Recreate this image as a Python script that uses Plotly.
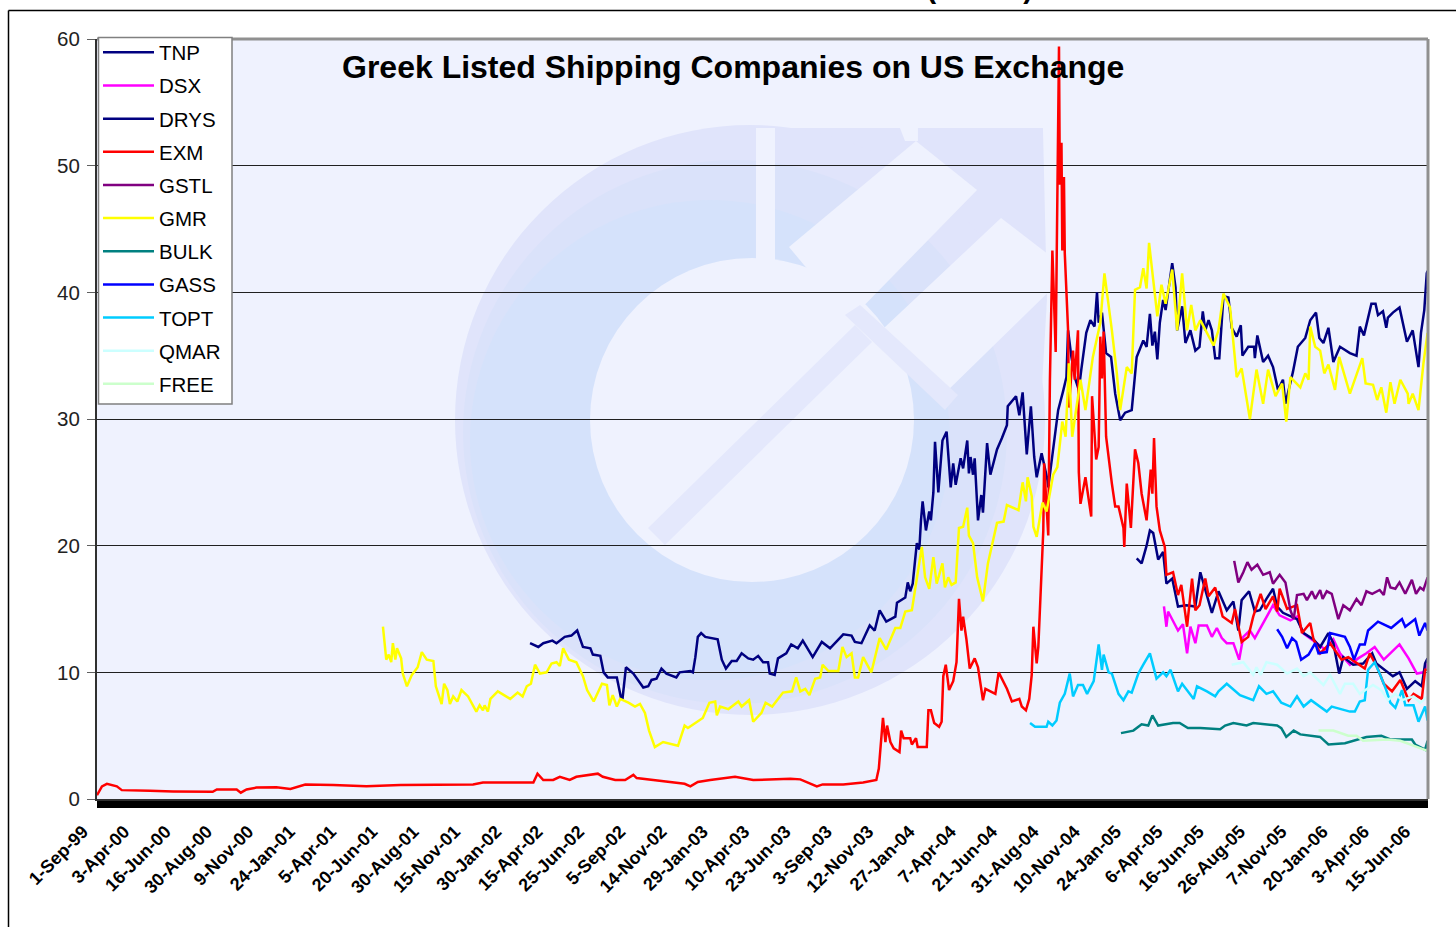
import plotly.graph_objects as go

TICK_DAYS = [50 * i for i in range(33)]
TICK_LABELS = ["1-Sep-99","3-Apr-00","16-Jun-00","30-Aug-00","9-Nov-00","24-Jan-01","5-Apr-01","20-Jun-01",
    "30-Aug-01","15-Nov-01","30-Jan-02","15-Apr-02","25-Jun-02","5-Sep-02","14-Nov-02","29-Jan-03","10-Apr-03",
    "23-Jun-03","3-Sep-03","12-Nov-03","27-Jan-04","7-Apr-04","21-Jun-04","31-Aug-04","10-Nov-04","24-Jan-05",
    "6-Apr-05","16-Jun-05","26-Aug-05","7-Nov-05","20-Jan-06","3-Apr-06","15-Jun-06"]

# (trading-day number, price)
TNP = [(524,12.3),(534,12),(540,12.3),(551,12.5),(556,12.3),(566,12.8),(574,12.9),(581,13.3),(588,12),(597,11.9),(600,11.4),(609,11.3),(613,10),(618,9.6),(629,9.6),(634,8),(636,8),(640,10.4),(649,9.9),(661,8.8),(667,8.9),(671,9.4),(677,9.5),(683,10.3),(689,9.9),(701,9.6),(705,10),(718,10.1),(721,10),(724,11.2),(727,12.8),(731,13.1),(736,12.8),(751,12.6),(756,11),(761,10.3),(768,10.9),(774,10.9),(780,11.5),(788,11.1),(794,11),(800,11.3),(806,10.8),(812,10.8),(814,9.9),(820,9.8),(824,11.1),(834,11.5),(840,12.2),(848,11.9),(854,12.5),(866,11.2),(877,12.4),(887,11.9),(903,13),(913,12.9),(917,12.4),(925,12.3),(935,13.7),(941,13.3),(947,14.9),(955,14),(966,14.4),(968,15.5),(978,15.9),(981,17.1),(984,16.4),(987,17),(992,20.2),(995,19.7),(997,22),(999,23.5),(1003,21.2),(1007,22.7),(1009,22),(1012,24.2),(1014,28.2),(1018,24.2),(1023,28.3),(1028,29),(1033,24.6),(1036,26.5),(1039,24.8),(1045,26.9),(1048,26.1),(1053,28.3),(1055,25.7),(1057,27),(1060,25.6),(1062,26.9),(1066,22),(1070,24),(1072,22.6),(1077,28.1),(1081,25.6),(1089,27.6),(1095,28.5),(1101,29.5),(1102,31),(1112,31.8),(1116,30.3),(1120,32.1),(1125,27.2),(1130,31),(1134,27),(1137,25.4),(1143,27.3),(1150,25.2),(1151,24.6),(1155,26.5),(1160,29.3),(1163,30.7),(1169,32.2),(1173,33.3),(1175,37),(1179,34.9),(1184,33.1),(1188,32.3),(1191,33.9),(1197,36.8),(1202,37.8),(1207,37.3),(1210,40),(1212,37.6),(1216,38.4),(1221,35.2),(1227,34.9),(1232,32),(1238,29.9),(1244,30.5),(1252,30.7),(1258,34.9),(1266,36.2),(1270,35.7),(1274,38.3),(1277,35.8),(1280,36.9),(1283,34.7),(1286,37.6),(1290,39.4),(1293,38.6),(1301,42.3),(1305,40.4),(1307,37),(1313,38.9),(1317,36),(1323,37),(1329,35.4),(1334,35.7),(1338,38.5),(1341,37),(1345,37.8),(1349,37),(1353,34.8),(1358,34.8),(1363,39.7),(1369,39.6),(1373,37.2),(1379,36.5),(1384,37.4),(1386,35),(1393,35.7),(1400,35.7),(1401,34.8),(1404,36.6),(1411,34.5),(1417,35),(1423,34.1),(1429,32.3),(1435,33.1),(1438,31.2),(1447,33.7),(1453,35.7),(1462,36.4),(1468,37.8),(1475,38.4),(1479,36.4),(1484,36),(1490,37.2),(1496,34.5),(1504,35.7),(1516,35.2),(1524,35),(1528,37.3),(1533,36.6),(1538,38.1),(1542,39.1),(1547,39.1),(1550,38.2),(1556,38.5),(1560,37.2),(1562,38),(1568,38.4),(1576,38.8),(1581,37.3),(1585,36.1),(1592,37),(1595,35.8),(1599,34.1),(1602,36.8),(1606,38.6),(1609,41.5),(1610,41.7)]

DSX = [(1291,15.2),(1294,13.6),(1296,14.8),(1308,13.3),(1314,13.8),(1319,11.5),(1323,13.6),(1329,12.3),(1333,13.7),(1343,13.7),(1349,12.8),(1355,13.5),(1361,12.7),(1367,12.3),(1375,12.3),(1382,11),(1387,12.8),(1395,13.3),(1401,12.7),(1411,13.9),(1423,15.3),(1431,14.5),(1444,14.1),(1452,14.4),(1459,13.1),(1476,12.3),(1486,11.8),(1496,12.6),(1504,11.5),(1516,10.6),(1526,11.1),(1536,11.5),(1546,12),(1557,11),(1565,11.5),(1576,12.2),(1587,11.1),(1597,9.9),(1605,10),(1610,10.7)]

DRYS = [(1258,19),(1264,18.6),(1270,20),(1274,21.2),(1278,21),(1284,18.9),(1290,19.5),(1294,17),(1301,17.4),(1308,15.2),(1318,15.3),(1329,15.2),(1335,17.9),(1343,16),(1349,14.7),(1357,16.4),(1367,14.9),(1375,15.6),(1381,13.3),(1385,15.7),(1394,16.4),(1401,14.8),(1407,14.9),(1415,15.8),(1423,16.6),(1428,15.2),(1435,14.7),(1452,14.2),(1460,13.1),(1472,12.6),(1480,12),(1490,13.1),(1496,12.3),(1503,9.9),(1508,11.2),(1520,10.6),(1532,10.7),(1543,11.5),(1548,10.7),(1568,9.7),(1576,10),(1585,8.7),(1595,9.3),(1603,8.9),(1607,10.7),(1610,11.1)]

EXM = [(0,.3),(6,1.0),(12,1.2),(24,1.0),(30,.7),(44,.7),(64,.65),(92,.6),(140,.57),(145,.75),(169,.75),(174,.5),(181,.75),(193,.9),(217,.92),(234,.8),(243,.95),(252,1.15),(286,1.1),(326,1.0),(367,1.1),(455,1.15),(467,1.3),(528,1.3),(533,2.0),(540,1.5),(552,1.5),(560,1.75),(572,1.5),(580,1.75),(606,2),(612,1.75),(627,1.5),(639,1.5),(649,1.9),(653,1.65),(673,1.5),(689,1.35),(711,1.2),(718,1.0),(727,1.35),(742,1.5),(772,1.75),(794,1.5),(839,1.6),(851,1.55),(871,1.0),(878,1.15),(903,1.15),(927,1.3),(943,1.5),(946,2.4),(951,6.4),(954,4.5),(956,5.8),(960,4.5),(964,4),(971,3.7),(973,5.4),(976,4.8),(984,4.8),(986,4.3),(991,4.8),(993,4.1),(1004,4.1),(1006,7),(1009,7),(1013,6),(1019,5.7),(1022,6.1),(1024,9.7),(1027,10.6),(1031,8.6),(1036,9.3),(1040,10.8),(1043,15.8),(1046,13.3),(1048,14.4),(1052,12.6),(1056,10.3),(1062,11.1),(1066,10.4),(1072,7.8),(1075,8.7),(1087,8.3),(1091,10),(1101,8.7),(1107,7.7),(1116,7.9),(1119,7.3),(1124,7),(1128,7.9),(1131,9.8),(1133,13.6),(1137,10.7),(1139,12),(1143,18.1),(1145,21.2),(1146,26.5),(1151,20.8),(1153,33),(1156,43.3),(1160,35.3),(1164,59.4),(1165,48.5),(1167,51.8),(1168,43.3),(1170,49.1),(1171,43.1),(1173,40.2),(1175,37),(1176,30.9),(1181,35.4),(1183,33.1),(1187,37),(1188,25.8),(1190,23.3),(1196,25.4),(1203,22.3),(1204,31.8),(1208,27.5),(1209,26.8),(1212,27.8),(1214,36.5),(1216,33.2),(1218,36.9),(1221,28.6),(1224,26.8),(1228,24.9),(1232,23.1),(1236,23.1),(1242,21.4),(1243,19.9),(1246,24.9),(1251,21.4),(1256,27.6),(1260,26.5),(1264,24.1),(1270,22),(1275,26),(1277,24.1),(1279,28.5),(1282,23.1),(1286,21.2),(1292,19.9),(1294,17.7),(1302,17.9),(1308,16.1),(1312,16.9),(1319,13.6),(1325,17.4),(1329,14.9),(1334,15.3),(1341,17.4),(1345,16),(1353,16.7),(1362,14.4),(1373,13.9),(1377,15),(1385,12.4),(1393,12.8),(1399,14.4),(1408,16.2),(1414,15),(1423,16),(1428,14.8),(1431,16.6),(1440,15),(1452,15.3),(1458,13.1),(1468,13.9),(1472,12.6),(1480,11.5),(1492,12.3),(1506,11),(1514,11.2),(1534,10.3),(1540,11.5),(1549,10.4),(1557,9.1),(1567,8.5),(1577,9.4),(1587,7.8),(1593,8.3),(1603,7.9),(1607,10.2),(1610,10.2)]

GSTL = [(1376,18.8),(1381,17.1),(1387,17.9),(1392,18.7),(1397,18.1),(1404,18.5),(1411,17.7),(1419,17.9),(1423,17),(1431,17.7),(1438,17.1),(1444,14.9),(1448,14.2),(1452,16.1),(1460,16.2),(1464,15.7),(1470,16.4),(1474,15.8),(1480,16.5),(1483,15.8),(1488,16.4),(1494,16.2),(1502,14.2),(1508,15.3),(1516,14.9),(1524,15.8),(1530,15.3),(1536,16.4),(1543,16.2),(1552,16.5),(1557,16.1),(1561,17.5),(1565,16.7),(1571,16.6),(1576,17.1),(1583,16.2),(1591,17.3),(1596,16.2),(1601,16.7),(1605,16.5),(1610,17.5)]

GMR = [(346,13.6),(350,11),(353,11.4),(356,10.8),(358,12.3),(361,11),(363,11.9),(368,11.1),(370,9.9),(375,8.9),(381,9.8),(388,10.4),(393,11.6),(399,11),(407,10.9),(410,8.9),(417,7.5),(420,9.1),(424,8.6),(427,7.5),(431,8.1),(436,7.7),(441,8.6),(449,8.1),(459,6.9),(463,7.4),(467,7),(469,7.4),(473,6.9),(476,7.9),(485,8.5),(500,7.9),(509,8.4),(515,8.1),(520,8.9),(525,9.1),(530,10.6),(536,9.9),(544,10),(550,10.7),(556,10.8),(560,10.5),(564,11.9),(571,11),(580,10.8),(588,9.7),(593,8.6),(601,7.7),(611,9.1),(617,9),(620,7.4),(624,8.2),(629,7.3),(633,7.9),(643,7.6),(651,7.3),(657,7.5),(663,6.8),(668,5.4),(675,4.1),(685,4.5),(703,4.2),(711,5.8),(715,5.6),(733,6.4),(741,7.6),(748,7.7),(750,6.6),(754,7.3),(764,7.1),(776,7.7),(780,7.3),(789,7.8),(794,6.1),(804,6.8),(809,7.6),(817,7.3),(830,8.4),(841,8.5),(846,9.6),(851,8.5),(857,8.7),(862,8.2),(869,9.5),(875,9.6),(878,10.6),(885,10.1),(897,10.1),(902,12),(907,11.2),(913,11.5),(917,9.6),(921,9.6),(927,11.2),(937,10),(947,12.7),(955,11.8),(966,13.5),(972,13.5),(978,14.8),(986,14.9),(990,16.7),(998,19.9),(1002,17.5),(1007,16.6),(1012,19.1),(1016,17),(1023,18.6),(1026,16.7),(1030,17.5),(1034,16.9),(1039,17.1),(1043,21.4),(1048,21.5),(1053,23),(1055,20.8),(1060,20.2),(1065,17.5),(1072,15.6),(1078,18.6),(1084,20.4),(1089,21.8),(1097,21.9),(1101,23.2),(1115,22.8),(1120,25),(1124,23.5),(1126,25.4),(1131,23.9),(1133,21.5),(1137,20.7),(1144,23.4),(1149,22.7),(1157,25.6),(1162,26.2),(1168,29.8),(1172,28.6),(1176,34.4),(1180,28.6),(1190,33.1),(1196,30.7),(1205,34.9),(1214,37.6),(1219,41.5),(1228,37),(1234,33.6),(1238,30.7),(1246,34.1),(1252,33.6),(1256,40.2),(1262,40.4),(1266,41.9),(1270,40.3),(1273,43.9),(1278,41),(1283,38.1),(1288,40.6),(1293,39.1),(1301,41.8),(1307,37),(1313,41.5),(1319,37),(1324,39),(1329,37),(1335,37.8),(1341,37),(1351,35.8),(1357,37),(1363,39.9),(1371,38.8),(1379,33.3),(1385,34),(1395,30),(1403,33.9),(1411,31.2),(1417,33.9),(1426,31.8),(1434,32.8),(1439,29.8),(1444,33.3),(1456,32.5),(1462,33.6),(1466,33.1),(1468,37.3),(1474,35.7),(1480,35.4),(1485,33.6),(1490,34.3),(1498,32.3),(1503,34.9),(1516,32),(1531,34.8),(1535,32.8),(1544,32.7),(1549,31.5),(1554,32.5),(1560,30.5),(1565,32.9),(1570,31.2),(1577,33.1),(1586,32),(1587,31.2),(1592,32),(1599,30.7),(1605,34.4),(1610,36.8)]

BULK = [(1239,5.2),(1254,5.4),(1264,5.9),(1272,5.8),(1277,6.6),(1284,5.8),(1302,6),(1310,6),(1320,5.6),(1335,5.6),(1359,5.5),(1365,5.8),(1375,6),(1391,5.8),(1399,6),(1428,5.8),(1433,5.6),(1439,4.9),(1448,5.4),(1456,5.1),(1480,4.9),(1490,4.3),(1510,4.4),(1524,4.7),(1536,4.9),(1554,5),(1565,4.7),(1591,4.7),(1595,4.3),(1607,3.9),(1610,4.6)]

GASS = [(1428,13.4),(1434,12.8),(1440,11.9),(1446,12.7),(1451,12.4),(1457,11),(1466,11.4),(1474,12.3),(1478,11.5),(1488,11.6),(1492,13.1),(1510,12.8),(1516,12),(1521,11),(1528,12.2),(1534,12.2),(1538,13.3),(1550,14),(1566,13.5),(1579,14.2),(1583,13.6),(1595,14.2),(1600,12.9),(1607,13.9),(1610,13.3)]

TOPT = [(1129,6),(1135,5.7),(1149,5.7),(1151,6.1),(1156,5.8),(1161,6.2),(1165,7.6),(1171,8.3),(1177,9.9),(1181,8.1),(1187,9),(1193,9),(1198,8.3),(1206,9.3),(1212,12.2),(1216,10.2),(1218,11.4),(1224,10),(1228,9.9),(1236,8.3),(1242,7.8),(1248,8.5),(1252,8.4),(1260,9.9),(1266,10.6),(1274,11.5),(1282,9.5),(1290,10),(1294,9.7),(1299,10.2),(1308,8.5),(1313,9.1),(1327,7.9),(1331,8.9),(1343,8.5),(1353,8.1),(1357,8.5),(1367,9.1),(1383,8.2),(1399,7.8),(1406,8.9),(1415,8.3),(1423,8.5),(1433,7.6),(1444,7.3),(1452,8.1),(1460,7.3),(1469,7.8),(1488,6.9),(1494,7.3),(1516,6.9),(1522,6.9),(1528,7.7),(1534,7.8),(1538,10.2),(1546,10.8),(1552,9.9),(1560,8.6),(1565,7.6),(1571,7.2),(1579,8.6),(1583,7.4),(1593,7.4),(1599,6.1),(1607,7.3),(1610,6.2)]

QMAR = [(1373,10.6),(1387,10.8),(1399,9.8),(1403,10.4),(1408,9.8),(1415,10.8),(1428,10.6),(1440,9.9),(1452,10.3),(1460,9.7),(1468,10),(1484,9),(1492,9.8),(1504,8.3),(1510,9.1),(1520,9.1),(1528,8.3),(1544,9),(1554,8.6),(1562,7.8),(1571,8.3),(1579,7.8),(1593,8.1),(1601,7.6),(1610,8.1)]

FREE = [(1478,5.4),(1496,5.4),(1514,5),(1524,5),(1532,4.6),(1561,4.7),(1577,4.6),(1601,4),(1610,3.8)]

SERIES = [("TNP",TNP,"#000080"),("DSX",DSX,"#FF00FF"),("DRYS",DRYS,"#000080"),("EXM",EXM,"#FF0000"),
          ("GSTL",GSTL,"#800080"),("GMR",GMR,"#FFFF00"),("BULK",BULK,"#008080"),("GASS",GASS,"#0000FF"),
          ("TOPT",TOPT,"#00CCFF"),("QMAR",QMAR,"#CCFFFF"),("FREE",FREE,"#CCFFCC")]

L, R, T, B = 97, 1428, 39, 799
def px(x): return (x - L) / (R - L)
def py(y): return (B - y) / (B - T)

def circle(cx, cy, r, color):
    return dict(type="circle", xref="paper", yref="paper", layer="below", line_width=0, fillcolor=color,
                x0=px(cx-r), x1=px(cx+r), y0=py(cy+r), y1=py(cy-r))
def poly(points, color):
    path = "M " + " L ".join(f"{px(a):.4f},{py(b):.4f}" for a, b in points) + " Z"
    return dict(type="path", xref="paper", yref="paper", layer="below", line_width=0, fillcolor=color, path=path)

BG = "#EFF2FE"; PALE = "#E0E4FB"; STRONG = "#D5E2FB"; MID = "#DAE2FA"
shapes = [
    poly([(770,128),(1043,128),(1047,300),(1040,420),(770,420)], PALE),
    circle(750,420,295,PALE), circle(735,432,272,MID), circle(710,440,240,STRONG),
    circle(752,420,162,BG),
    poly([(756,128),(775,128),(775,262),(756,262)], BG),
    poly([(789,247),(916,141),(977,190),(850,320)], BG),
    poly([(883,329),(1001,218),(1070,271),(944,394)], BG),
    poly([(900,128),(918,128),(918,141),(905,141)], BG),
    poly([(855,325),(872,342),(665,545),(648,528)], "#E4E8FC"),
    poly([(845,315),(860,305),(958,395),(945,410)], "#E4E8FC"),
    # picture frame
    dict(type="line", xref="paper", yref="paper", x0=px(8.5), x1=px(1456), y0=py(10.5), y1=py(10.5), line=dict(color="black", width=1.5)),
    dict(type="line", xref="paper", yref="paper", x0=px(8.5), x1=px(8.5), y0=py(10.5), y1=py(927), line=dict(color="black", width=1.5)),
    # plot-area border
    dict(type="line", xref="paper", yref="paper", x0=0, x1=1, y0=1, y1=1, line=dict(color="#909090", width=3)),
    dict(type="line", xref="paper", yref="paper", x0=1, x1=1, y0=0, y1=1, line=dict(color="#909090", width=3)),
    # legend box
    dict(type="rect", xref="paper", yref="paper", x0=px(98.5), x1=px(232), y0=py(404), y1=py(37.5),
         fillcolor="white", line=dict(color="#808080", width=1.5), layer="above"),
]

fig = go.Figure()
for name, pts, color in SERIES:
    fig.add_trace(go.Scatter(x=[p[0] for p in pts], y=[p[1] for p in pts], mode="lines", name=name,
                             legendgroup=name, line=dict(color=color, width=2.5), hoverinfo="skip"))

fig.update_layout(
    width=1456, height=927, paper_bgcolor="white", plot_bgcolor=BG,
    margin=dict(l=L, r=1456-R, t=T, b=927-B, autoexpand=False),
    font=dict(family="Liberation Sans, Arial, sans-serif", color="black"),
    shapes=shapes,
    legend=dict(x=px(98), y=py(32.5), xanchor="left", yanchor="top", bgcolor="rgba(0,0,0,0)", borderwidth=0,
                font=dict(size=20.5), itemwidth=51, tracegroupgap=3.5, traceorder="grouped",
                itemclick=False, itemdoubleclick=False),
    xaxis=dict(range=[0, 1610.5], tickmode="array", tickvals=TICK_DAYS, ticktext=TICK_LABELS, tickangle=-45,
               tickfont=dict(size=18, family="Liberation Sans, Arial, sans-serif", weight="bold"),
               ticklabelshift=-14, ticklabelstandoff=6,
               showgrid=False, zeroline=False, showline=True, linecolor="#303030", linewidth=2,
               ticks="outside", ticklen=7, tickcolor="black", tickwidth=1,
               minor=dict(tickmode="linear", tick0=0, dtick=1, ticks="outside", ticklen=7, tickcolor="black", tickwidth=0.8, showgrid=False)),
    yaxis=dict(range=[0, 60], tickmode="array", tickvals=[0,10,20,30,40,50,60], tickfont=dict(size=20.5, color="#222222"),
               ticklabelstandoff=3,
               showgrid=True, gridcolor="#202020", gridwidth=1, zeroline=False, showline=True, linecolor="#303030", linewidth=2,
               ticks="outside", ticklen=8, tickcolor="#606060"),
    annotations=[
        dict(text="<b>Greek Listed Shipping Companies on US Exchange</b>", xref="paper", yref="paper", x=px(733), y=py(67),
             xanchor="center", yanchor="middle", showarrow=False, font=dict(size=32, color="black")),
        dict(text="<b>U.S. Stock Total Index (SHIPS)</b>", xref="paper", yref="paper", x=px(824), y=py(6),
             xanchor="center", yanchor="bottom", showarrow=False, font=dict(size=29, color="black")),
    ],
)
fig.write_html("out.html", config=dict(displayModeBar=False), post_script="document.body.style.margin='0';document.body.style.overflow='hidden';")
